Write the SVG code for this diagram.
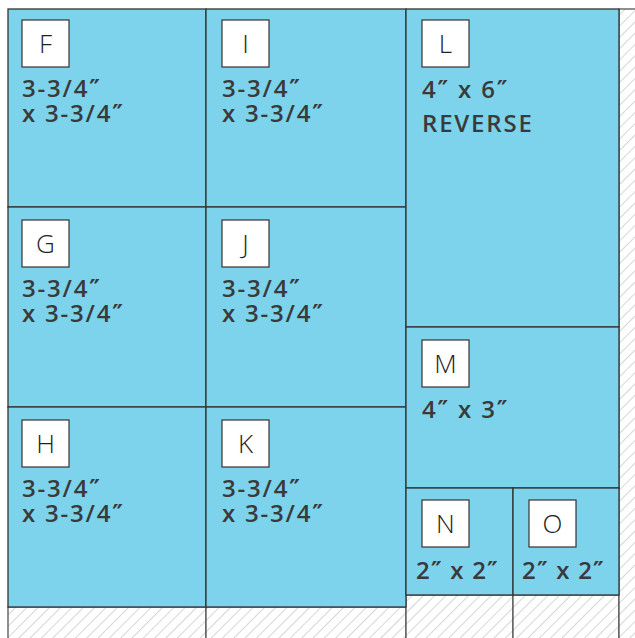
<svg xmlns="http://www.w3.org/2000/svg" width="635" height="638" viewBox="0 0 635 638">
<defs>
<pattern id="hatch" patternUnits="userSpaceOnUse" width="8" height="8" patternTransform="rotate(45)">
<rect width="8" height="8" fill="#fff"/>
<line x1="0" y1="0" x2="0" y2="8" stroke="#cccccc" stroke-width="1.6"/>
</pattern>
<style>
.cell{fill:#7dd3ec;stroke:#333;stroke-width:1.3}
.waste{fill:url(#hatch);stroke:#555;stroke-width:1.3}
.box{fill:#fff;stroke:#333;stroke-width:1.2}
.lbl{font-family:"Open Sans","Liberation Sans",sans-serif;font-size:26px;font-weight:300;fill:#222;text-anchor:middle}
.dim{font-family:"Open Sans","Liberation Sans",sans-serif;font-size:24px;font-weight:600;fill:#3a3a3a;letter-spacing:1.8px}
.p{font-family:"DejaVu Sans",sans-serif;font-weight:bold}
.sm{letter-spacing:1.2px}
</style>
</defs>
<rect width="635" height="638" fill="#fff"/>
<g id="waste">
<rect class="waste" x="8" y="607" width="198" height="40"/>
<rect class="waste" x="206" y="607" width="200" height="40"/>
<rect class="waste" x="406" y="595" width="107" height="50"/>
<rect class="waste" x="513" y="595" width="106" height="50"/>
<rect class="waste" x="619" y="9" width="30" height="640"/>
</g>
<g id="F"><rect class="cell" x="8" y="9" width="198" height="198"/><rect class="box" x="22" y="20" width="47" height="47"/><text class="lbl" x="45.5" y="53">F</text><text class="dim" x="22" y="97">3-3/4<tspan class="p">″</tspan></text><text class="dim" x="22" y="122">x 3-3/4<tspan class="p">″</tspan></text></g>
<g id="I"><rect class="cell" x="206" y="9" width="200" height="198"/><rect class="box" x="222" y="20" width="47" height="47"/><text class="lbl" x="245.5" y="53">I</text><text class="dim" x="222" y="97">3-3/4<tspan class="p">″</tspan></text><text class="dim" x="222" y="122">x 3-3/4<tspan class="p">″</tspan></text></g>
<g id="G"><rect class="cell" x="8" y="207" width="198" height="200"/><rect class="box" x="22" y="220" width="47" height="47"/><text class="lbl" x="45.5" y="253">G</text><text class="dim" x="22" y="297">3-3/4<tspan class="p">″</tspan></text><text class="dim" x="22" y="322">x 3-3/4<tspan class="p">″</tspan></text></g>
<g id="J"><rect class="cell" x="206" y="207" width="200" height="200"/><rect class="box" x="222" y="220" width="47" height="47"/><text class="lbl" x="245.5" y="253">J</text><text class="dim" x="222" y="297">3-3/4<tspan class="p">″</tspan></text><text class="dim" x="222" y="322">x 3-3/4<tspan class="p">″</tspan></text></g>
<g id="H"><rect class="cell" x="8" y="407" width="198" height="200"/><rect class="box" x="22" y="420" width="47" height="47"/><text class="lbl" x="45.5" y="453">H</text><text class="dim" x="22" y="497">3-3/4<tspan class="p">″</tspan></text><text class="dim" x="22" y="522">x 3-3/4<tspan class="p">″</tspan></text></g>
<g id="K"><rect class="cell" x="206" y="407" width="200" height="200"/><rect class="box" x="222" y="420" width="47" height="47"/><text class="lbl" x="245.5" y="453">K</text><text class="dim" x="222" y="497">3-3/4<tspan class="p">″</tspan></text><text class="dim" x="222" y="522">x 3-3/4<tspan class="p">″</tspan></text></g>
<g id="L"><rect class="cell" x="406" y="9" width="213" height="318"/><rect class="box" x="422" y="20" width="47" height="47"/><text class="lbl" x="445.5" y="53">L</text><text class="dim" x="422" y="98">4<tspan class="p">″</tspan> x 6<tspan class="p">″</tspan></text><text class="dim" x="422" y="132">REVERSE</text></g>
<g id="M"><rect class="cell" x="406" y="327" width="213" height="161"/><rect class="box" x="422" y="340" width="47" height="47"/><text class="lbl" x="445.5" y="373">M</text><text class="dim" x="422" y="418">4<tspan class="p">″</tspan> x 3<tspan class="p">″</tspan></text></g>
<g id="N"><rect class="cell" x="406" y="488" width="107" height="107"/><rect class="box" x="422" y="500" width="47" height="47"/><text class="lbl" x="445.5" y="533">N</text><text class="dim sm" x="416" y="579">2<tspan class="p">″</tspan> x 2<tspan class="p">″</tspan></text></g>
<g id="O"><rect class="cell" x="513" y="488" width="106" height="107"/><rect class="box" x="529" y="500" width="47" height="47"/><text class="lbl" x="552.5" y="533">O</text><text class="dim sm" x="522" y="579">2<tspan class="p">″</tspan> x 2<tspan class="p">″</tspan></text></g>
</svg>
